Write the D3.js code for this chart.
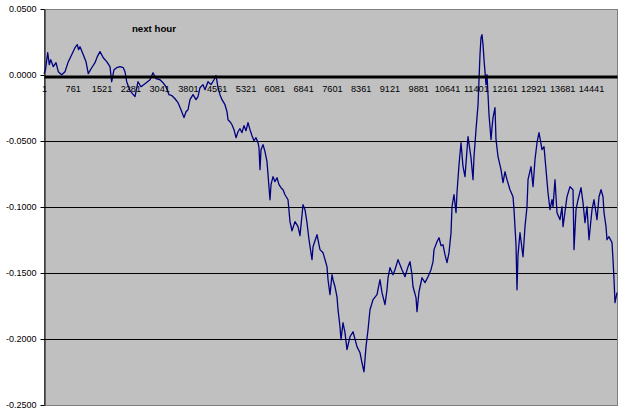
<!DOCTYPE html>
<html>
<head>
<meta charset="utf-8">
<script src="https://cdn.jsdelivr.net/npm/d3@7"></script>
<style>
  body { margin: 0; background: #fff; }
  text { font-family: Arial, "Liberation Sans", sans-serif; }
</style>
</head>
<body>
<div id="chart"></div>
<script>
// Chart title
const chartTitle = "next hour";

// Category axis: number of points and the labels Excel printed
const pointCount = 15128;
const xTickLabels = [1, 761, 1521, 2281, 3041, 3801, 4561, 5321, 6081, 6841,
  7601, 8361, 9121, 9881, 10641, 11401, 12161, 12921, 13681, 14441];

// Value axis ticks
const yTicks = [0.05, 0, -0.05, -0.1, -0.15, -0.2, -0.25];

// Series: category number and value
const sampleIndex = [1, 41, 99, 141, 178, 247, 318, 379, 468, 555,
  643, 732, 819, 880, 912, 951, 1038, 1110, 1170, 1260,
  1347, 1408, 1479, 1566, 1656, 1743, 1788, 1849, 1920, 2007,
  2094, 2139, 2184, 2271, 2358, 2403, 2483, 2562, 2667, 2799,
  2879, 2958, 3063, 3143, 3222, 3301, 3380, 3459, 3539, 3618,
  3697, 3750, 3803, 3855, 3935, 4014, 4067, 4119, 4199, 4251,
  4331, 4410, 4489, 4542, 4595, 4647, 4700, 4779, 4832, 4859,
  4911, 4964, 5017, 5070, 5123, 5175, 5228, 5281, 5334, 5387,
  5439, 5492, 5545, 5598, 5651, 5677, 5703, 5730, 5783, 5835,
  5888, 5915, 5967, 5994, 6047, 6099, 6152, 6205, 6258, 6311,
  6363, 6443, 6495, 6548, 6627, 6707, 6759, 6839, 6891, 6944,
  6997, 7076, 7103, 7208, 7287, 7367, 7472, 7499, 7551, 7604,
  7631, 7683, 7736, 7763, 7815, 7842, 7895, 7947, 8000, 8079,
  8159, 8264, 8343, 8396, 8449, 8502, 8555, 8607, 8687, 8792,
  8871, 8924, 9003, 9056, 9083, 9135, 9215, 9267, 9347, 9452,
  9531, 9611, 9663, 9716, 9743, 9822, 9848, 9901, 9980, 10059,
  10139, 10218, 10271, 10297, 10376, 10429, 10482, 10535, 10587, 10640,
  10693, 10746, 10772, 10825, 10878, 10904, 10957, 11010, 11063, 11115,
  11195, 11274, 11327, 11353, 11406, 11459, 11485, 11511, 11538, 11564,
  11591, 11617, 11643, 11670, 11696, 11723, 11749, 11775, 11802, 11828,
  11855, 11907, 11934, 11987, 12066, 12119, 12171, 12224, 12303, 12383,
  12409, 12462, 12488, 12515, 12567, 12647, 12699, 12752, 12779, 12858,
  12911, 12963, 13016, 13069, 13148, 13201, 13254, 13307, 13359, 13412,
  13439, 13491, 13544, 13623, 13676, 13703, 13808, 13887, 13967, 13993,
  14046, 14099, 14178, 14231, 14283, 14336, 14389, 14468, 14521, 14600,
  14653, 14706, 14759, 14785, 14838, 14864, 14917, 14996, 15023, 15049,
  15075, 15128];

const sampleValue = [0.0010, 0.0040, 0.0169, 0.0078, 0.0116, 0.0063, 0.0093, 0.0025, 0.0002, 0.0025,
  0.0101, 0.0154, 0.0207, 0.0230, 0.0192, 0.0214, 0.0154, 0.0101, 0.0010, 0.0055,
  0.0093, 0.0139, 0.0177, 0.0131, 0.0101, 0.0063, -0.0051, 0.0040, 0.0055, 0.0063,
  0.0055, 0.0025, -0.0051, -0.0119, -0.0149, -0.0164, -0.0051, -0.0089, -0.0066, -0.0036,
  0.0017, -0.0028, -0.0036, -0.0058, -0.0089, -0.0149, -0.0157, -0.0180, -0.0210, -0.0263,
  -0.0323, -0.0278, -0.0263, -0.0187, -0.0149, -0.0187, -0.0164, -0.0096, -0.0073, -0.0111,
  -0.0051, -0.0073, -0.0036, -0.0005, -0.0096, -0.0149, -0.0187, -0.0225, -0.0278, -0.0339,
  -0.0354, -0.0377, -0.0414, -0.0475, -0.0430, -0.0407, -0.0437, -0.0384, -0.0422, -0.0361,
  -0.0414, -0.0460, -0.0498, -0.0475, -0.0513, -0.0551, -0.0717, -0.0566, -0.0528, -0.0581,
  -0.0657, -0.0755, -0.0945, -0.0831, -0.0770, -0.0808, -0.0778, -0.0831, -0.0854, -0.0869,
  -0.0907, -0.0945, -0.1111, -0.1180, -0.1111, -0.1149, -0.1217, -0.0983, -0.1020, -0.1119,
  -0.1248, -0.1399, -0.1301, -0.1210, -0.1323, -0.1346, -0.1452, -0.1551, -0.1664, -0.1513,
  -0.1551, -0.1604, -0.1680, -0.1778, -0.1907, -0.2005, -0.1877, -0.1952, -0.2081, -0.1983,
  -0.1945, -0.2058, -0.2104, -0.2180, -0.2248, -0.2058, -0.1930, -0.1778, -0.1702, -0.1664,
  -0.1551, -0.1649, -0.1740, -0.1627, -0.1536, -0.1460, -0.1513, -0.1475, -0.1399, -0.1475,
  -0.1528, -0.1452, -0.1414, -0.1513, -0.1604, -0.1687, -0.1793, -0.1642, -0.1536, -0.1573,
  -0.1528, -0.1475, -0.1414, -0.1323, -0.1263, -0.1233, -0.1293, -0.1286, -0.1361, -0.1422,
  -0.1346, -0.1195, -0.0998, -0.0907, -0.1043, -0.0892, -0.0680, -0.0513, -0.0695, -0.0770,
  -0.0467, -0.0627, -0.0793, -0.0619, -0.0414, -0.0225, -0.0036, 0.0154, 0.0283, 0.0305,
  0.0230, 0.0116, 0.0025, -0.0073, 0.0002, -0.0149, -0.0301, -0.0392, -0.0490, -0.0399,
  -0.0323, -0.0248, -0.0490, -0.0619, -0.0717, -0.0816, -0.0733, -0.0793, -0.0869, -0.0922,
  -0.1020, -0.1286, -0.1627, -0.1361, -0.1195, -0.1377, -0.1149, -0.0998, -0.0793, -0.0695,
  -0.0846, -0.0642, -0.0513, -0.0437, -0.0566, -0.0543, -0.0717, -0.0892, -0.1020, -0.0945,
  -0.0998, -0.0793, -0.1043, -0.1096, -0.0998, -0.1149, -0.0922, -0.0846, -0.0869, -0.1323,
  -0.1020, -0.0945, -0.0854, -0.0967, -0.1119, -0.0998, -0.1248, -0.1020, -0.0945, -0.1096,
  -0.0922, -0.0869, -0.0922, -0.1043, -0.1149, -0.1248, -0.1225, -0.1270, -0.1399, -0.1551,
  -0.1725, -0.1649];

const width = 625;
const height = 416;
const margin = { top: 9, right: 8, bottom: 11, left: 44 };
const plotW = width - margin.left - margin.right;
const plotH = height - margin.top - margin.bottom;

const svg = d3.select("#chart")
  .append("svg")
  .attr("width", width)
  .attr("height", height);

const x = d3.scaleLinear().domain([1, pointCount]).range([margin.left, margin.left + plotW]);
const y = d3.scaleLinear().domain([-0.25, 0.05]).range([margin.top + plotH, margin.top]);

// Plot area
svg.append("rect")
  .attr("x", margin.left)
  .attr("y", margin.top)
  .attr("width", plotW)
  .attr("height", plotH)
  .attr("fill", "#c0c0c0")
  .attr("stroke", "#808080")
  .attr("stroke-width", 1)
  .attr("shape-rendering", "crispEdges");

// Gridlines
svg.append("g")
  .selectAll("line")
  .data(yTicks.filter(d => d < 0 && d > -0.25))
  .join("line")
  .attr("x1", margin.left)
  .attr("x2", margin.left + plotW)
  .attr("y1", d => Math.round(y(d)) + 0.5)
  .attr("y2", d => Math.round(y(d)) + 0.5)
  .attr("stroke", "#000")
  .attr("stroke-width", 1);

// Value axis
const yAxis = svg.append("g")
  .attr("transform", `translate(${margin.left + 0.5},0)`)
  .call(d3.axisLeft(y)
    .tickValues(yTicks)
    .tickSize(4)
    .tickSizeOuter(0)
    .tickPadding(4)
    .tickFormat(d => d.toFixed(4)));
yAxis.select(".domain").attr("stroke", "#000");
yAxis.selectAll(".tick line").attr("stroke", "#000");
yAxis.selectAll("text")
  .attr("fill", "#000")
  .style("font-size", "9px")
  .style("font-family", "Arial, 'Liberation Sans', sans-serif");

// Series line
const line = d3.line()
  .x((d, i) => x(sampleIndex[i]))
  .y(d => y(d));

svg.append("path")
  .datum(sampleValue)
  .attr("fill", "none")
  .attr("stroke", "#000080")
  .attr("stroke-width", 1.3)
  .attr("stroke-linejoin", "round")
  .attr("d", line);

// Category axis on the zero line
const xAxis = svg.append("g")
  .attr("transform", `translate(0,${y(0) + 1.5})`)
  .call(d3.axisBottom(x)
    .tickValues(xTickLabels)
    .tickSize(0)
    .tickSizeOuter(0)
    .tickPadding(9)
    .tickFormat(d => String(d)));
xAxis.select(".domain").attr("stroke", "#000").attr("stroke-width", 3);
xAxis.selectAll("text")
  .attr("fill", "#000")
  .style("font-size", "9.2px")
  .style("font-family", "Arial, 'Liberation Sans', sans-serif");

// Title
svg.append("text")
  .attr("x", 154)
  .attr("y", 32)
  .attr("text-anchor", "middle")
  .style("font-size", "9.7px")
  .style("font-weight", "bold")
  .text(chartTitle);
</script>
</body>
</html>
